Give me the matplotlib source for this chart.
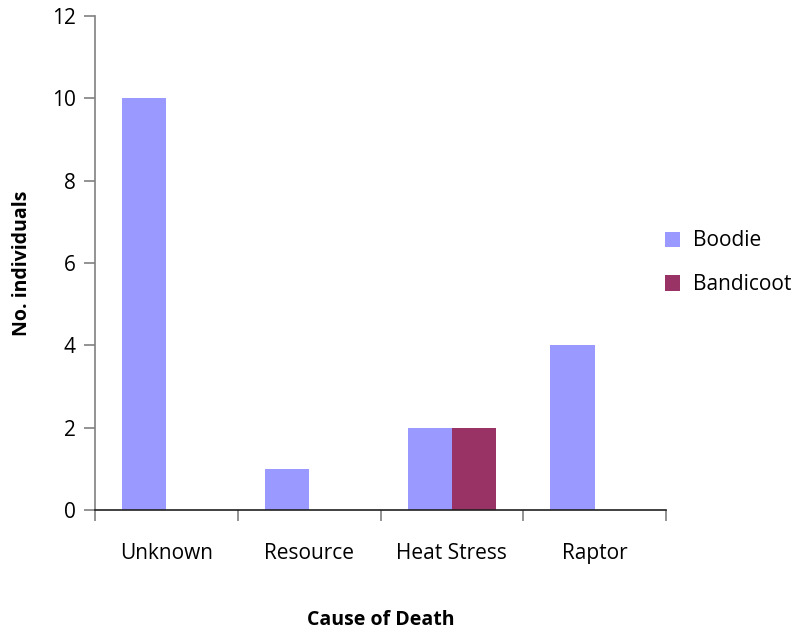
import matplotlib.pyplot as plt
import numpy as np

causes = ["Unknown", "Resource", "Heat Stress", "Raptor"]
boodie = [10, 1, 2, 4]
bandicoot = [0, 0, 2, 0]

plt.rcParams['font.family'] = ['Open Sans', 'DejaVu Sans']

fig = plt.figure(figsize=(8.1, 6.35), dpi=100)
ax = fig.add_axes([0.1173, 0.197, 0.705, 0.778])

x = np.arange(len(causes)) + 0.5
w = 0.31
ax.bar(x - w / 2, boodie, w, color='#9999FF', label='Boodie')
ax.bar(x + w / 2, bandicoot, w, color='#993366', label='Bandicoot')

ax.set_xlim(0, 4)
ax.set_ylim(0, 12)
ax.set_yticks(range(0, 13, 2))
ax.set_xticks(range(0, 5))
ax.set_xticklabels([])
ax.set_xticks(x, minor=True)
ax.set_xticklabels(causes, minor=True)
ax.tick_params(axis='x', which='minor', length=0, pad=24, labelsize=15)
ax.tick_params(axis='x', which='major', length=8, color='#808080', width=1.2)
ax.tick_params(axis='y', length=8, color='#808080', width=1.2, labelsize=15, pad=6)

for s in ['top', 'right']:
    ax.spines[s].set_visible(False)
ax.spines['left'].set_color('#808080')
ax.spines['left'].set_linewidth(1.2)
ax.spines['bottom'].set_color('#202020')
ax.spines['bottom'].set_linewidth(1.2)

ax.set_ylabel('No. individuals', fontsize=14, fontweight='bold', va='center')
ax.yaxis.set_label_coords(-0.128, 0.5)
ax.set_xlabel('Cause of Death', fontsize=14, fontweight='bold', va='center')
ax.xaxis.set_label_coords(0.5, -0.223)

ax.legend(loc='center left', bbox_to_anchor=(0.965, 0.5), frameon=False,
          fontsize=15, handlelength=0.75, handleheight=0.75, labelspacing=1.1,
          handletextpad=0.6)

fig.savefig('out.png', dpi=100)
